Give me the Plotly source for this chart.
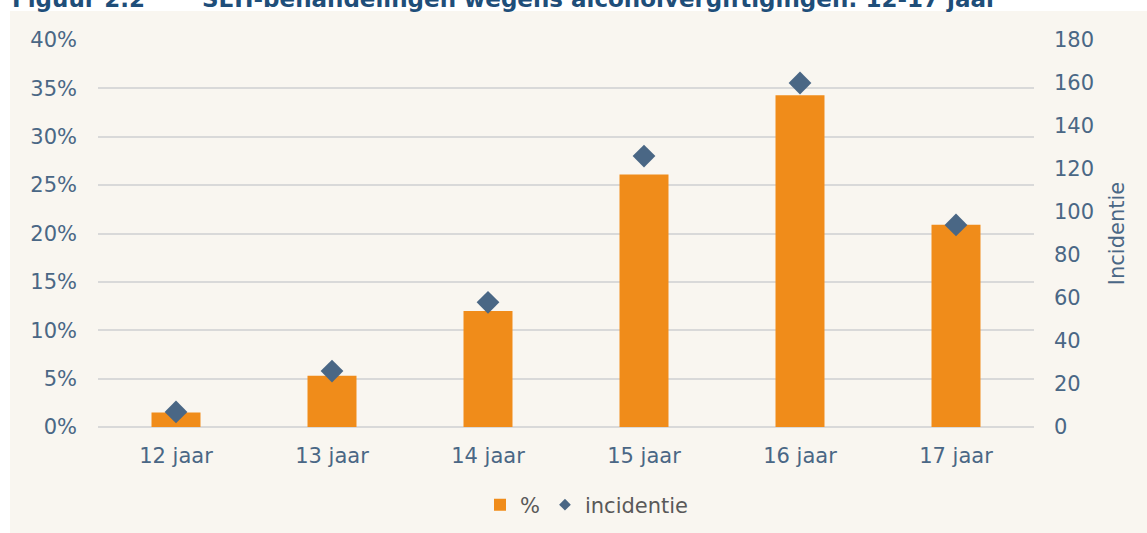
import plotly.graph_objects as go

categories = ["12 jaar", "13 jaar", "14 jaar", "15 jaar", "16 jaar", "17 jaar"]
pct_values = [0.015, 0.053, 0.120, 0.261, 0.343, 0.209]
incidentie_values = [7, 26, 58, 126, 160, 94]
left_ticks = [0, 0.05, 0.10, 0.15, 0.20, 0.25, 0.30, 0.35, 0.40]
right_ticks = [0, 20, 40, 60, 80, 100, 120, 140, 160, 180]

W, H = 1147, 533
L, R, T, B = 98, 1034, 40, 427
PW, PH = R - L, B - T

def px(x):
    return (x - L) / PW

def py(y):
    return (B - y) / PH

FONT = "DejaVu Sans"
AXIS_COL = "#4A6785"
BAR_COL = "#F08C1A"
DIA_COL = "#4A6785"
BG = "#F9F6F0"

fig = go.Figure()
fig.add_trace(go.Bar(
    x=categories, y=pct_values, name="%",
    marker=dict(color=BAR_COL, line=dict(width=0)),
    width=0.314, yaxis="y",
))
fig.add_trace(go.Scatter(
    x=categories, y=incidentie_values, name="incidentie", mode="markers",
    marker=dict(symbol="diamond", size=17.5, color=DIA_COL),
    yaxis="y2", showlegend=False,
))
# legend entry with smaller symbol
fig.add_trace(go.Scatter(
    x=[None], y=[None], name="incidentie", mode="markers",
    marker=dict(symbol="diamond", size=9, color=DIA_COL),
    yaxis="y2", showlegend=True,
))

fig.update_layout(
    width=W, height=H,
    margin=dict(l=L, r=W - R, t=T, b=H - B, autoexpand=False),
    paper_bgcolor="white",
    plot_bgcolor="rgba(0,0,0,0)",
    font=dict(family=FONT, size=21, color=AXIS_COL),
    showlegend=True,
    legend=dict(orientation="h", x=px(587), xanchor="center", y=py(505), yanchor="middle",
                font=dict(family=FONT, size=21, color="#595959"),
                bgcolor="rgba(0,0,0,0)", traceorder="normal", itemwidth=30),
    bargap=0.686,
    xaxis=dict(
        categoryorder="array", categoryarray=categories,
        showgrid=False, zeroline=False, showline=False, ticks="",
        tickfont=dict(family=FONT, size=21, color=AXIS_COL),
        ticklabelstandoff=14,
    ),
    yaxis=dict(
        range=[0, 0.40], tickvals=left_ticks, tickformat=".0%",
        showgrid=True, gridcolor="#D9D9D9", gridwidth=2,
        zeroline=True, zerolinecolor="#D9D9D9", zerolinewidth=2,
        showline=False, ticks="",
        tickfont=dict(family=FONT, size=21, color=AXIS_COL),
        ticklabelstandoff=20,
    ),
    yaxis2=dict(
        overlaying="y", side="right", range=[0, 180], tickvals=right_ticks,
        showgrid=False, zeroline=False, showline=False, ticks="",
        tickfont=dict(family=FONT, size=21, color=AXIS_COL),
        ticklabelstandoff=19,
        title=dict(text="Incidentie", font=dict(family=FONT, size=21, color=AXIS_COL), standoff=16),
    ),
    shapes=[dict(type="rect", xref="paper", yref="paper",
                 x0=px(10), x1=px(W + 20), y0=py(H + 20), y1=py(11),
                 fillcolor=BG, line=dict(width=0), layer="below")],
    annotations=[
        dict(text="<b>Figuur 2.2</b>", xref="paper", yref="paper", x=px(10), y=py(14),
             xanchor="left", yanchor="bottom", showarrow=False,
             font=dict(family=FONT, size=23, color="#1F4E79")),
        dict(text="<b>SEH-behandelingen wegens alcoholvergiftigingen: 12-17 jaar</b>",
             xref="paper", yref="paper", x=px(200), y=py(14),
             xanchor="left", yanchor="bottom", showarrow=False,
             font=dict(family=FONT, size=23, color="#1F4E79")),
    ],
)

fig.write_html("out.html", config={"displayModeBar": False},
               post_script="document.body.style.margin='0';document.body.style.overflow='hidden';")
